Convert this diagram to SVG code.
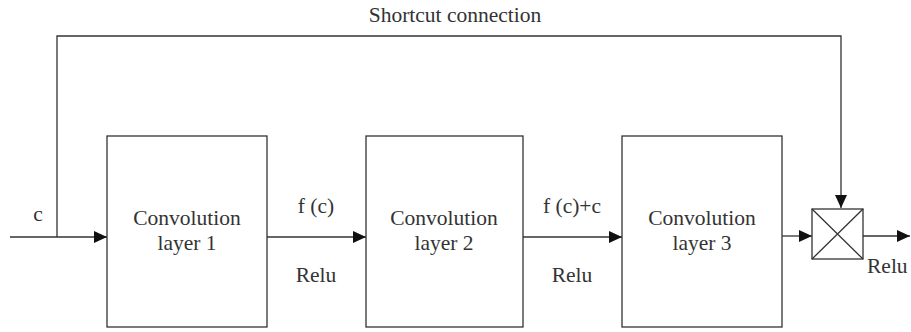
<svg xmlns="http://www.w3.org/2000/svg" width="911" height="332" viewBox="0 0 911 332">
<style>
.b{fill:#fff;stroke:#333;stroke-width:1.3}
.l{fill:none;stroke:#333;stroke-width:1.3}
text{font-family:"Liberation Serif","DejaVu Serif",serif;font-size:21.5px;fill:#333;text-anchor:middle}
</style>
<defs>
<marker id="a" markerWidth="13" markerHeight="12" refX="13" refY="6" orient="auto" markerUnits="userSpaceOnUse">
<path d="M0,0L13,6L0,12z" fill="#111"/>
</marker>
</defs>
<rect width="911" height="332" fill="#fff"/>
<g id="connectors">
<path class="l" d="M10,237H107" marker-end="url(#a)"/>
<path class="l" d="M57,237V36H841V208" marker-end="url(#a)"/>
<path class="l" d="M267,237H366" marker-end="url(#a)"/>
<path class="l" d="M523,237H622" marker-end="url(#a)"/>
<path class="l" d="M782,236H812" marker-end="url(#a)"/>
<path class="l" d="M863,236H910" marker-end="url(#a)"/>
</g>
<text x="455" y="22">Shortcut connection</text>
<text x="38" y="221">c</text>
<text x="316" y="213">f (c)</text>
<text x="316" y="282">Relu</text>
<text x="572" y="213">f (c)+c</text>
<text x="572" y="282">Relu</text>
<text x="867" y="273" style="text-anchor:start">Relu</text>
<g id="conv1">
<rect class="b" x="107" y="136" width="160" height="191"/>
<text x="187" y="225">Convolution</text>
<text x="187" y="250">layer 1</text>
</g>
<g id="conv2">
<rect class="b" x="366" y="136" width="157" height="191"/>
<text x="444" y="225">Convolution</text>
<text x="444" y="250">layer 2</text>
</g>
<g id="conv3">
<rect class="b" x="622" y="136" width="160" height="191"/>
<text x="702" y="225">Convolution</text>
<text x="702" y="250">layer 3</text>
</g>
<g id="junction">
<rect class="b" x="812" y="209" width="51" height="50"/>
<path class="l" d="M812,209L863,259M863,209L812,259"/>
</g>
</svg>
